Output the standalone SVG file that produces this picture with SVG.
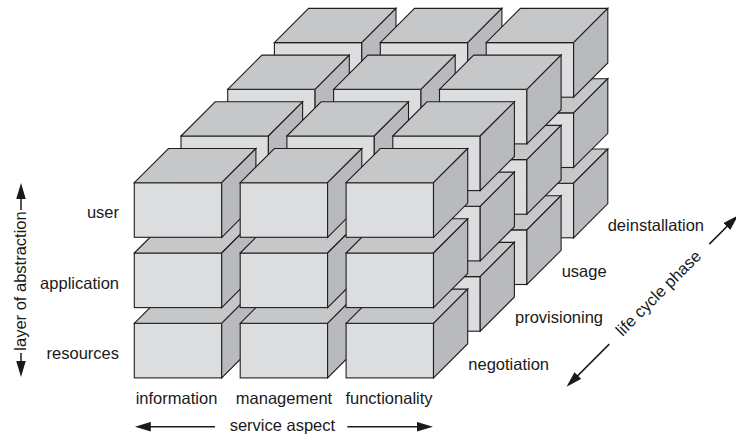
<svg xmlns="http://www.w3.org/2000/svg" xmlns:xlink="http://www.w3.org/1999/xlink" width="736" height="434" viewBox="0 0 736 434">
<style>
.front{fill:#dcdddf}
.top{fill:#c6c7c9}
.side{fill:#b9babd}
.cube *{stroke:#1e1e1e;stroke-width:1.1;stroke-linejoin:miter}
text{font-family:"Liberation Sans",Arial,sans-serif;font-size:16.5px;fill:#1a1a1a}
.axis{stroke:#1a1a1a;stroke-width:1.5;fill:none;marker-end:url(#ah)}
</style>
<defs>
<marker id="ah" markerUnits="userSpaceOnUse" markerWidth="16" markerHeight="10" refX="12" refY="4.5" orient="auto" viewBox="0 0 15 9">
<path d="M0,0 L15,4.5 L0,9 z" fill="#1a1a1a"/>
</marker>
<g id="cube" class="cube">
<rect class="front" x="0" y="0" width="87.4" height="54.6"/>
<polygon class="top" points="0,0 34.2,-34.2 121.6,-34.2 87.4,0"/>
<polygon class="side" points="87.4,0 121.6,-34.2 121.6,20.4 87.4,54.6"/>
</g>
</defs>
<rect width="736" height="434" fill="#ffffff"/>
<g id="boxes">
<!-- depth 3 (back) -->
<g id="box-d3-r2-c0"><use xlink:href="#cube" href="#cube" x="274.4" y="183.2"/></g>
<g id="box-d3-r2-c1"><use xlink:href="#cube" href="#cube" x="380.3" y="183.2"/></g>
<g id="box-d3-r2-c2"><use xlink:href="#cube" href="#cube" x="486.2" y="183.2"/></g>
<g id="box-d3-r1-c0"><use xlink:href="#cube" href="#cube" x="274.4" y="112.9"/></g>
<g id="box-d3-r1-c1"><use xlink:href="#cube" href="#cube" x="380.3" y="112.9"/></g>
<g id="box-d3-r1-c2"><use xlink:href="#cube" href="#cube" x="486.2" y="112.9"/></g>
<g id="box-d3-r0-c0"><use xlink:href="#cube" href="#cube" x="274.4" y="42.6"/></g>
<g id="box-d3-r0-c1"><use xlink:href="#cube" href="#cube" x="380.3" y="42.6"/></g>
<g id="box-d3-r0-c2"><use xlink:href="#cube" href="#cube" x="486.2" y="42.6"/></g>
<!-- depth 2 -->
<g id="box-d2-r2-c0"><use xlink:href="#cube" href="#cube" x="227.7" y="229.9"/></g>
<g id="box-d2-r2-c1"><use xlink:href="#cube" href="#cube" x="333.6" y="229.9"/></g>
<g id="box-d2-r2-c2"><use xlink:href="#cube" href="#cube" x="439.5" y="229.9"/></g>
<g id="box-d2-r1-c0"><use xlink:href="#cube" href="#cube" x="227.7" y="159.6"/></g>
<g id="box-d2-r1-c1"><use xlink:href="#cube" href="#cube" x="333.6" y="159.6"/></g>
<g id="box-d2-r1-c2"><use xlink:href="#cube" href="#cube" x="439.5" y="159.6"/></g>
<g id="box-d2-r0-c0"><use xlink:href="#cube" href="#cube" x="227.7" y="89.3"/></g>
<g id="box-d2-r0-c1"><use xlink:href="#cube" href="#cube" x="333.6" y="89.3"/></g>
<g id="box-d2-r0-c2"><use xlink:href="#cube" href="#cube" x="439.5" y="89.3"/></g>
<!-- depth 1 -->
<g id="box-d1-r2-c0"><use xlink:href="#cube" href="#cube" x="181.0" y="276.6"/></g>
<g id="box-d1-r2-c1"><use xlink:href="#cube" href="#cube" x="286.9" y="276.6"/></g>
<g id="box-d1-r2-c2"><use xlink:href="#cube" href="#cube" x="392.8" y="276.6"/></g>
<g id="box-d1-r1-c0"><use xlink:href="#cube" href="#cube" x="181.0" y="206.3"/></g>
<g id="box-d1-r1-c1"><use xlink:href="#cube" href="#cube" x="286.9" y="206.3"/></g>
<g id="box-d1-r1-c2"><use xlink:href="#cube" href="#cube" x="392.8" y="206.3"/></g>
<g id="box-d1-r0-c0"><use xlink:href="#cube" href="#cube" x="181.0" y="136.0"/></g>
<g id="box-d1-r0-c1"><use xlink:href="#cube" href="#cube" x="286.9" y="136.0"/></g>
<g id="box-d1-r0-c2"><use xlink:href="#cube" href="#cube" x="392.8" y="136.0"/></g>
<!-- depth 0 (front) -->
<g id="box-d0-r2-c0"><use xlink:href="#cube" href="#cube" x="134.3" y="323.3"/></g>
<g id="box-d0-r2-c1"><use xlink:href="#cube" href="#cube" x="240.2" y="323.3"/></g>
<g id="box-d0-r2-c2"><use xlink:href="#cube" href="#cube" x="346.1" y="323.3"/></g>
<g id="box-d0-r1-c0"><use xlink:href="#cube" href="#cube" x="134.3" y="253.0"/></g>
<g id="box-d0-r1-c1"><use xlink:href="#cube" href="#cube" x="240.2" y="253.0"/></g>
<g id="box-d0-r1-c2"><use xlink:href="#cube" href="#cube" x="346.1" y="253.0"/></g>
<g id="box-d0-r0-c0"><use xlink:href="#cube" href="#cube" x="134.3" y="182.7"/></g>
<g id="box-d0-r0-c1"><use xlink:href="#cube" href="#cube" x="240.2" y="182.7"/></g>
<g id="box-d0-r0-c2"><use xlink:href="#cube" href="#cube" x="346.1" y="182.7"/></g>
</g>
<g id="connectors">
<line class="axis" x1="21" y1="210" x2="21" y2="186.3"/>
<line class="axis" x1="21" y1="353" x2="21" y2="373.7"/>
<line class="axis" x1="215" y1="426.7" x2="138" y2="426.7"/>
<line class="axis" x1="347.3" y1="426.7" x2="429.7" y2="426.7"/>
<line class="axis" x1="609.3" y1="344.1" x2="568.8" y2="384.6"/>
<line class="axis" x1="709.3" y1="244.1" x2="735.9" y2="217.5"/>
</g>
<g id="labels">
<text x="119" y="218" text-anchor="end">user</text>
<text x="119" y="288.5" text-anchor="end">application</text>
<text x="119" y="359" text-anchor="end">resources</text>
<text transform="translate(26,281) rotate(-90)" text-anchor="middle">layer of abstraction</text>
<text x="176.5" y="403.5" text-anchor="middle">information</text>
<text x="284" y="403.5" text-anchor="middle">management</text>
<text x="389" y="403.5" text-anchor="middle">functionality</text>
<text x="282.4" y="430.7" text-anchor="middle">service aspect</text>
<text x="607.7" y="230.7">deinstallation</text>
<text x="561.7" y="277.3">usage</text>
<text x="515" y="323">provisioning</text>
<text x="468.3" y="370">negotiation</text>
<text transform="translate(662.3,297.1) rotate(-45)" text-anchor="middle">life cycle phase</text>
</g>
</svg>
